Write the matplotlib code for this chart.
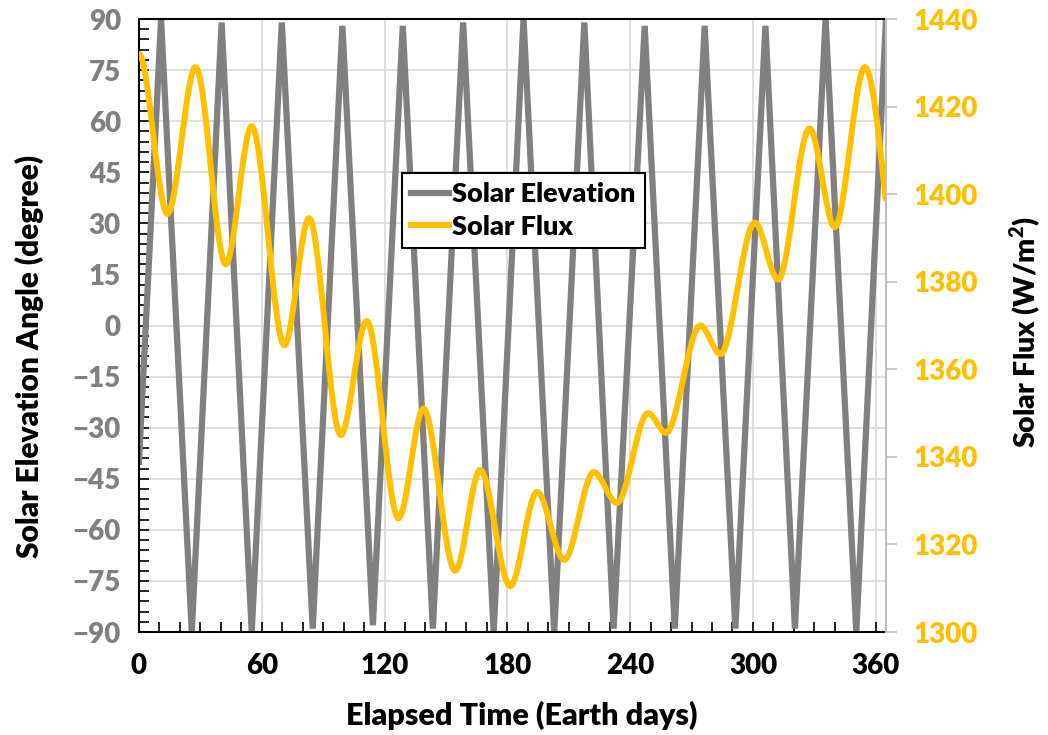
import matplotlib
matplotlib.use('Agg')
import matplotlib.pyplot as plt
from matplotlib.path import Path
from matplotlib.patches import PathPatch
from matplotlib.lines import Line2D
from matplotlib.ticker import MultipleLocator

plt.rcParams['font.family'] = ['Lato', 'DejaVu Sans']
plt.rcParams['font.weight'] = 'heavy'

# solar elevation: turning points of the zig-zag (day, degree)
elev_days = [0, 10.8, 25.8, 40.4, 55.1, 69.8, 84.9, 99.4, 114.3, 128.9, 143.6,
             158.4, 173.3, 187.9, 202.9, 217.6, 231.9, 247.1, 261.8, 276.4,
             291.4, 306.1, 320.5, 335.5, 350.5, 365.0]
elev_deg = [-40, 90, -90, 89, -90, 89, -89, 88, -88, 88, -89,
            89, -90, 90, -90, 89, -89, 88, -89, 88,
            -89, 88, -89, 90, -90, 90]

# solar flux: peaks and troughs of the curve (day, W/m2)
flux_days = [0, 13.9, 27.7, 42.4, 55.1, 71.1, 83.1, 98.6, 111.3, 126.8, 139.0,
             154.5, 166.7, 181.4, 194.5, 207.8, 222.2, 233.6, 248.7, 257.5,
             274.3, 284.1, 300.9, 312.3, 327.6, 340.0, 354.7, 364.8]
flux_vals = [1432, 1395.5, 1429, 1384, 1415.5, 1365.5, 1394.5, 1345, 1371, 1326, 1351,
             1314, 1337, 1310.5, 1332, 1316.5, 1336.5, 1329.5, 1350, 1345.5,
             1370, 1363.5, 1393.5, 1380.5, 1415, 1392.5, 1429, 1399]

GRAY = '#808080'
GOLD = '#FFC000'
W = 'heavy'


def smooth_path(xs, ys):
    # Excel-like smoothed line: flat tangents at the peaks, sloped at the last point
    slopes = [0.0] * len(xs)
    slopes[-1] = 1.5 * (ys[-1] - ys[-2]) / (xs[-1] - xs[-2])
    verts = [(xs[0], ys[0])]
    codes = [Path.MOVETO]
    for i in range(len(xs) - 1):
        d = (xs[i + 1] - xs[i]) / 3.0
        verts.append((xs[i] + d, ys[i] + slopes[i] * d))
        verts.append((xs[i + 1] - d, ys[i + 1] - slopes[i + 1] * d))
        verts.append((xs[i + 1], ys[i + 1]))
        codes += [Path.CURVE4] * 3
    return Path(verts, codes)


fig = plt.figure(figsize=(10.48, 7.35), dpi=100)
ax1 = fig.add_axes([0.1326, 0.1401, 0.7128, 0.834])
ax2 = ax1.twinx()

ax1.plot(elev_days, elev_deg, color=GRAY, lw=4.5, solid_joinstyle='miter')
ax1.set_xlim(0, 365)
ax1.set_ylim(-90, 90)
ax1.xaxis.set_major_locator(MultipleLocator(60))
ax1.xaxis.set_minor_locator(MultipleLocator(10))
ax1.yaxis.set_major_locator(MultipleLocator(15))
ax1.yaxis.set_minor_locator(MultipleLocator(3))
ax1.grid(True, which='major', color='#D9D9D9', lw=1.2)
ax1.set_axisbelow(True)
ax1.tick_params(axis='both', which='both', direction='in', length=7, width=1.2, color='black')
ax1.tick_params(axis='x', pad=15, labelsize=20, labelcolor='black')
ax1.tick_params(axis='y', pad=13, labelsize=20, labelcolor=GRAY)
for s in ['left', 'bottom', 'top']:
    ax1.spines[s].set_linewidth(1.5)
    ax1.spines[s].set_color('black')
ax1.spines['right'].set_visible(False)
ax1.set_xlabel('Elapsed Time (Earth days)', fontsize=22, fontweight=W)
ax1.set_ylabel('Solar Elevation Angle (degree)', fontsize=21.5, fontweight=W)
ax1.xaxis.set_label_coords(0.513, -0.113)
ax1.yaxis.set_label_coords(-0.127, 0.449)

ax2.add_patch(PathPatch(smooth_path(flux_days, flux_vals), fill=False,
                        edgecolor=GOLD, lw=4.3, capstyle='round'))
ax2.set_ylim(1300, 1440)
ax2.yaxis.set_major_locator(MultipleLocator(20))
ax2.tick_params(axis='y', direction='out', length=8, width=1.2, color='#BFBFBF',
                pad=12, labelsize=20, labelcolor=GOLD)
for s in ['left', 'bottom', 'top']:
    ax2.spines[s].set_visible(False)
ax2.spines['right'].set_color('#BFBFBF')
ax2.spines['right'].set_linewidth(1.5)
ax2.set_ylabel('Solar Flux (W/m$^\\mathregular{2}$)', fontsize=20.5, fontweight=W)
ax2.yaxis.set_label_coords(1.164, 0.489)

handles = [Line2D([], [], color=GRAY, lw=4.5), Line2D([], [], color=GOLD, lw=4.3)]
leg = ax2.legend(handles, ['Solar Elevation', 'Solar Flux'], loc='upper left',
                 bbox_to_anchor=(0.352, 0.749), borderaxespad=0, fontsize=19.5,
                 handlelength=1.4, handletextpad=0.1, labelspacing=0.3,
                 fancybox=False, framealpha=1, edgecolor='black', borderpad=0.35)
leg.get_frame().set_linewidth(1.5)
for t in leg.get_texts():
    t.set_fontweight(W)

fig.savefig('out.png', dpi=100)
